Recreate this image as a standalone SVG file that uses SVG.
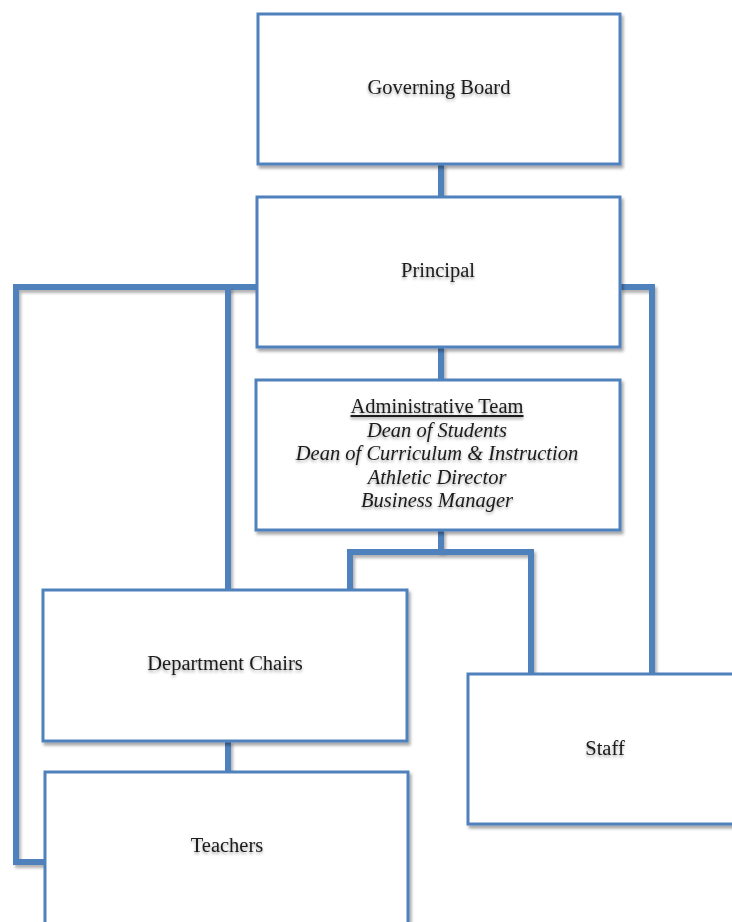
<svg xmlns="http://www.w3.org/2000/svg" width="732" height="922" viewBox="0 0 732 922">
  <defs>
    <filter id="boxShadow" x="-5%" y="-5%" width="112%" height="115%">
      <feDropShadow dx="2" dy="3" stdDeviation="1.8" flood-color="#000" flood-opacity="0.35"/>
    </filter>
    <filter id="lineShadow" filterUnits="userSpaceOnUse" x="0" y="0" width="732" height="922">
      <feDropShadow dx="2" dy="3" stdDeviation="1.5" flood-color="#000" flood-opacity="0.3"/>
    </filter>
    <filter id="textShadow" x="-10%" y="-30%" width="120%" height="180%">
      <feDropShadow dx="0" dy="2" stdDeviation="1.6" flood-color="#000" flood-opacity="0.35"/>
    </filter>
  </defs>
  <style>
    .box { fill: #ffffff; stroke: #4f81bd; stroke-width: 3; filter: url(#boxShadow); }
    .conn { fill: none; stroke: #4f81bd; stroke-width: 6; stroke-linejoin: miter; stroke-linecap: butt; filter: url(#lineShadow); }
    .lbl { font-family: "Liberation Serif", "DejaVu Serif", serif; font-size: 20.5px; fill: #1a1a1a; text-anchor: middle; filter: url(#textShadow); }
    .it { font-style: italic; }
  </style>
  <rect width="732" height="922" fill="#ffffff"/>

  <g id="connectors">
    <path class="conn" d="M 441 164 V 197"/>
    <path class="conn" d="M 441 347 V 380"/>
    <path class="conn" d="M 257 287 H 16 V 862 H 45"/>
    <path class="conn" d="M 228 287 V 590"/>
    <path class="conn" d="M 620 287 H 652 V 674"/>
    <path class="conn" d="M 441 530 V 552"/>
    <path class="conn" d="M 350 590 V 552 H 531 V 674"/>
    <path class="conn" d="M 228 741 V 772"/>
  </g>

  <g id="governing-board">
    <rect class="box" x="258" y="14" width="362" height="150"/>
    <text class="lbl" x="439" y="94">Governing Board</text>
  </g>

  <g id="principal">
    <rect class="box" x="257" y="197" width="363" height="150"/>
    <text class="lbl" x="438" y="277">Principal</text>
  </g>

  <g id="administrative-team">
    <rect class="box" x="256" y="380" width="364" height="150"/>
    <text class="lbl" x="437" y="413" text-decoration="underline">Administrative Team</text>
    <text class="lbl it" x="437" y="436.5">Dean of Students</text>
    <text class="lbl it" x="437" y="460">Dean of Curriculum &amp; Instruction</text>
    <text class="lbl it" x="437" y="483.5">Athletic Director</text>
    <text class="lbl it" x="437" y="507">Business Manager</text>
  </g>

  <g id="department-chairs">
    <rect class="box" x="43" y="590" width="364" height="151"/>
    <text class="lbl" x="225" y="670">Department Chairs</text>
  </g>

  <g id="teachers">
    <rect class="box" x="45" y="772" width="363" height="156"/>
    <text class="lbl" x="227" y="852">Teachers</text>
  </g>

  <g id="staff">
    <rect class="box" x="468" y="674" width="280" height="150"/>
    <text class="lbl" x="605" y="755">Staff</text>
  </g>
</svg>
